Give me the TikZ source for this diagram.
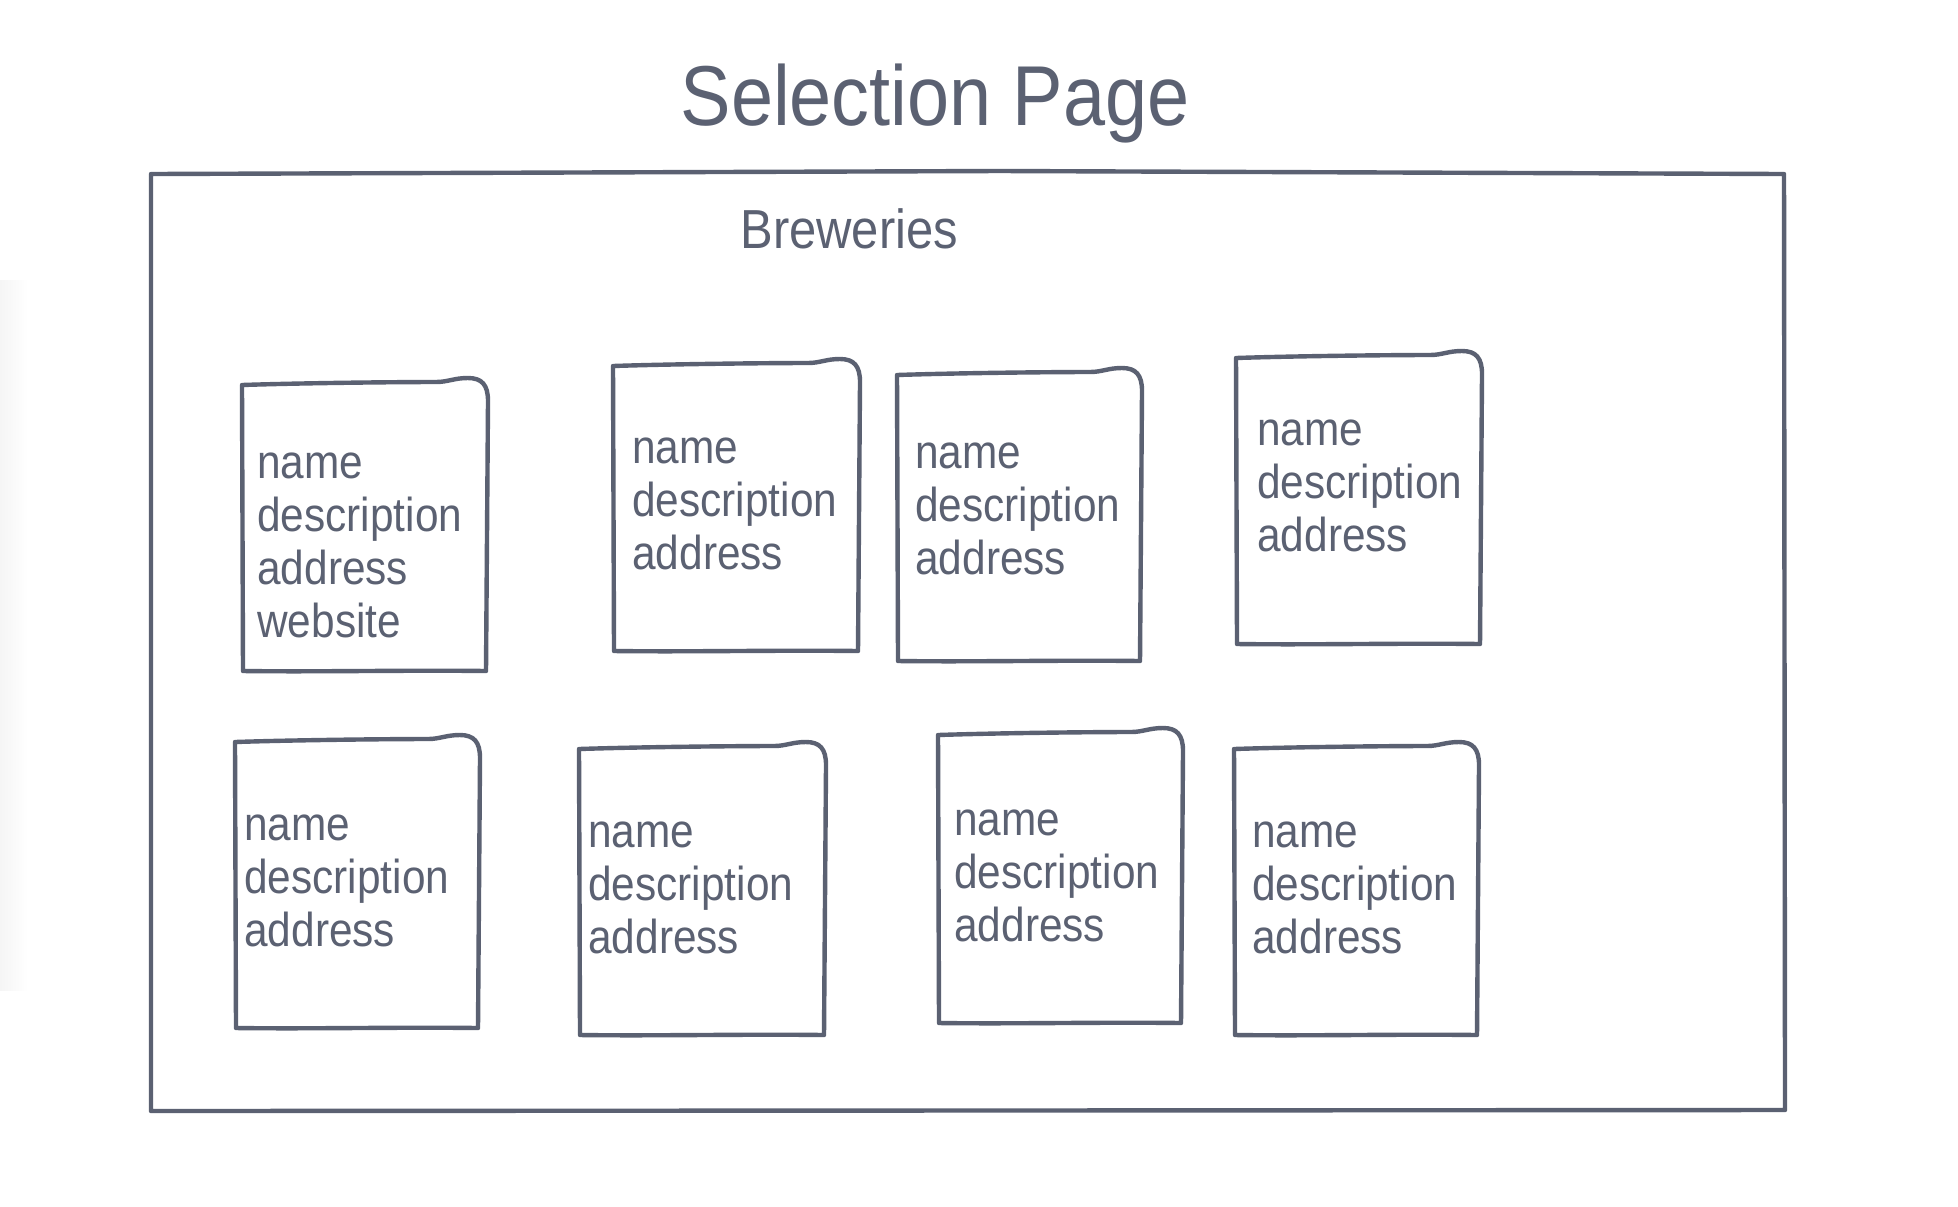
\documentclass[tikz,border=0pt]{standalone}
\usepackage{fontspec}
\setmainfont[FakeStretch=0.89]{Liberation Sans}
\definecolor{ink}{RGB}{91,97,114}
\tikzset{
  cardline/.style={draw=ink, line width=2.2pt, line join=round, line cap=round},
  cardtext/.style={anchor=north west, inner sep=0pt, align=left, text=ink,
    font={\fontsize{23.8}{26.5}\selectfont}},
}
\newcommand\handcard[4]{%
  \draw[cardline] (#1+1,#4) -- (#1,#2)
    .. controls (#1+60,#2-2) and (#3-90,#2-3) .. (#3-50,#2-3)
    .. controls (#3-38,#2-3) and (#3-32,#2-7) .. (#3-18,#2-7)
    .. controls (#3-4,#2-7) and (#3+2,#2) .. (#3+2,#2+16)
    -- (#3,#4)
    .. controls (#3-80,#4-1) and (#1+80,#4+1) .. cycle;}
\begin{document}
\begin{tikzpicture}[x=0.5pt,y=-0.5pt]
\useasboundingbox (0,0) rectangle (1958,1206);
\fill[white] (0,0) rectangle (1958,1206);
\shade[left color=black!4, right color=white] (0,280) rectangle (28,990);
% title
\node[anchor=base, inner sep=0pt, text=ink, font={\fontsize{42.5}{50}\selectfont}] (title) at (935,125) {Selection Page};
% frame
\draw[cardline] (151,174) -- (1000,171) -- (1784,174) -- (1785,1110) -- (151,1111) -- cycle;
\node[anchor=base west, inner sep=0pt, text=ink, font={\fontsize{27.5}{33}\selectfont}] (brew) at (740,248) {Breweries};
% cards
\handcard{242}{385}{486}{671}
\node[cardtext] (c1) at (257,452) {name\\description\\address\\website};
\handcard{613}{366}{858}{651}
\node[cardtext] (c2) at (632,437) {name\\description\\address};
\handcard{897}{375}{1140}{661}
\node[cardtext] (c3) at (915,442) {name\\description\\address};
\handcard{1236}{358}{1480}{644}
\node[cardtext] (c4) at (1257,419) {name\\description\\address};
\handcard{235}{742}{478}{1028}
\node[cardtext] (c5) at (244,814) {name\\description\\address};
\handcard{579}{749}{824}{1035}
\node[cardtext] (c6) at (588,821) {name\\description\\address};
\handcard{938}{735}{1181}{1023}
\node[cardtext] (c7) at (954,809) {name\\description\\address};
\handcard{1234}{749}{1477}{1035}
\node[cardtext] (c8) at (1252,821) {name\\description\\address};
\end{tikzpicture}
\end{document}
